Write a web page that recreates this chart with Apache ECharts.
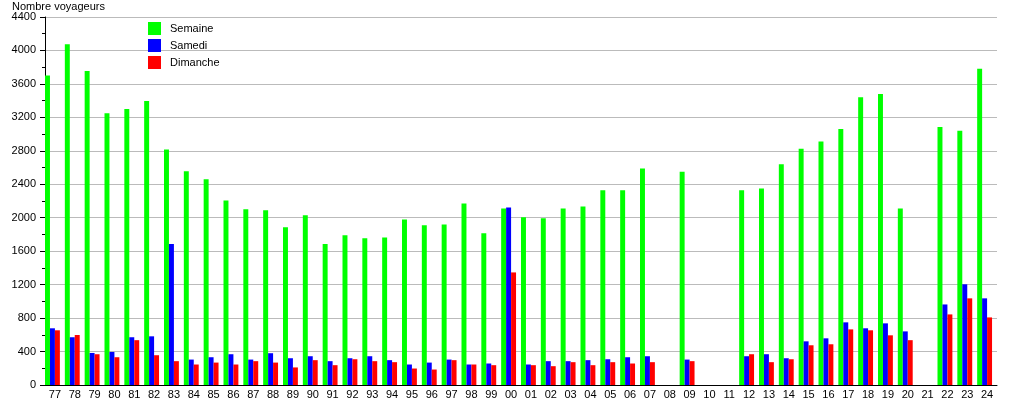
<!DOCTYPE html>
<html>
<head>
<meta charset="utf-8">
<script src="https://cdn.jsdelivr.net/npm/echarts@6/dist/echarts.min.js"></script>
<style>
  html, body { margin: 0; padding: 0; background: #fff; }
</style>
</head>
<body>
<div id="myChart" style="width:1015px;height:400px;"></div>
<script>
  // années (77 -> 24)
  var annees = ['77', '78', '79', '80', '81', '82', '83', '84', '85', '86', '87', '88', '89', '90', '91', '92',
    '93', '94', '95', '96', '97', '98', '99', '00', '01', '02', '03', '04', '05', '06', '07', '08', '09', '10',
    '11', '12', '13', '14', '15', '16', '17', '18', '19', '20', '21', '22', '23', '24']

  var semaine = [3700, 4075, 3755, 3250, 3300, 3395, 2815, 2555, 2460, 2205, 2100, 2090, 1885, 2030, 1685, 1790,
    1755, 1765, 1980, 1910, 1920, 2170, 1815, 2110, 2005, 1995, 2110, 2135, 2330, 2330, 2590, null, 2550, null,
    null, 2330, 2350, 2640, 2825, 2910, 3060, 3440, 3480, 2110, null, 3085, 3040, 3780]

  var samedi = [678, 571, 383, 395, 571, 582, 1687, 304, 332, 368, 304, 380, 320, 344, 285, 320,
    344, 297, 245, 268, 304, 245, 257, 2122, 245, 285, 285, 297, 308, 332, 344, null, 304, null,
    null, 344, 368, 320, 522, 558, 749, 678, 737, 641, null, 963, 1204, 1036]

  var dimanche = [654, 598, 368, 332, 536, 356, 285, 245, 268, 245, 285, 268, 210, 297, 237, 308,
    285, 273, 197, 185, 297, 245, 237, 1346, 237, 225, 273, 237, 273, 257, 273, null, 285, null,
    null, 368, 273, 308, 475, 487, 665, 654, 594, 536, null, 844, 1036, 808]

  var yTicks = { min: 0, max: 4400, interval: 400 }

  var police = 'Liberation Sans, Arial, sans-serif'

  var myChart = echarts.init(document.getElementById('myChart'))
  myChart.setOption({
    animation: false,
    textStyle: { fontFamily: police },
    title: {
      text: 'Nombre voyageurs',
      left: 12,
      top: 1,
      padding: 0,
      textStyle: { fontSize: 11, fontWeight: 'normal', color: '#000', fontFamily: police }
    },
    legend: {
      orient: 'vertical',
      left: 148,
      top: 22,
      padding: 0,
      icon: 'rect',
      itemWidth: 13,
      itemHeight: 13,
      itemGap: 4,
      data: ['Semaine', 'Samedi', 'Dimanche'],
      textStyle: { fontSize: 11, color: '#000', fontFamily: police, padding: [0, 0, 0, 4] }
    },
    grid: { left: 45, right: 18, top: 17, bottom: 13 },
    xAxis: {
      type: 'category',
      data: annees,
      axisLine: { lineStyle: { color: '#000' } },
      axisTick: { show: false },
      axisLabel: { interval: 0, fontSize: 11, color: '#000', margin: 4, fontFamily: police }
    },
    yAxis: {
      type: 'value',
      min: yTicks.min,
      max: yTicks.max,
      interval: yTicks.interval,
      axisLine: { show: true, lineStyle: { color: '#000' } },
      axisTick: { show: true, length: 5, lineStyle: { color: '#000' } },
      minorTick: { show: true, splitNumber: 2, length: 3, lineStyle: { color: '#000' } },
      axisLabel: {
        fontSize: 11, color: '#000', margin: 9, fontFamily: police,
        formatter: function (v) { return String(v) }
      },
      splitLine: { lineStyle: { color: '#bbbbbb' } }
    },
    series: [
      { name: 'Semaine', type: 'bar', data: semaine, itemStyle: { color: '#00ff00' }, barGap: '0%', barCategoryGap: '0%' },
      { name: 'Samedi', type: 'bar', data: samedi, itemStyle: { color: '#0000ff' } },
      { name: 'Dimanche', type: 'bar', data: dimanche, itemStyle: { color: '#ff0000' } },
      // série vide pour laisser l'espace à droite de chaque groupe
      { name: 'vide', type: 'bar', data: annees.map(function () { return null }) }
    ]
  })
</script>
</body>
</html>
